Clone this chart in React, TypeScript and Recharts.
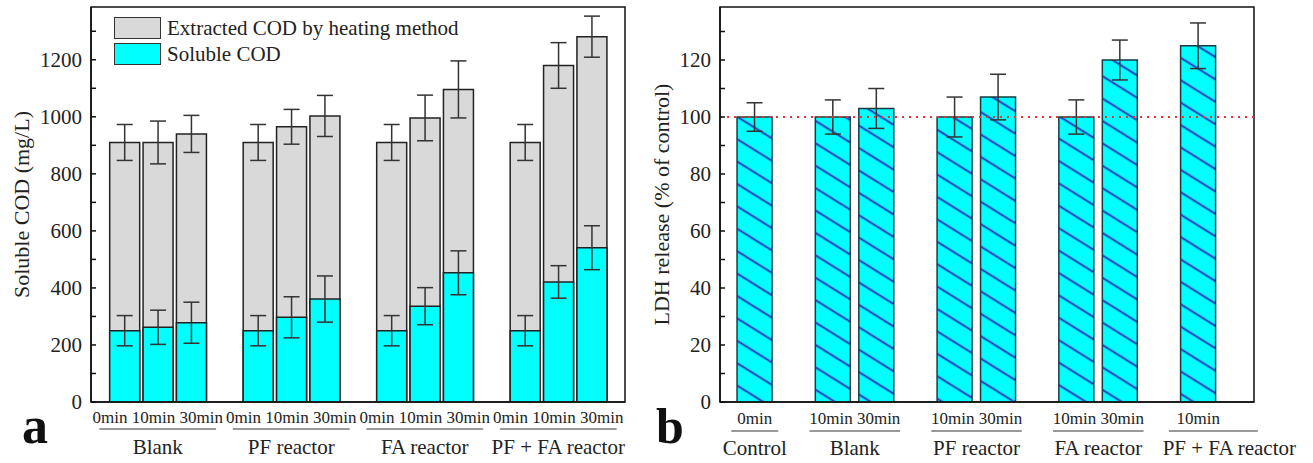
import React from 'react';
import {
  ComposedChart,
  Bar,
  XAxis,
  YAxis,
  ErrorBar,
  ReferenceArea,
  ReferenceLine
} from 'recharts';

const FONT = "'Liberation Serif', 'Times New Roman', serif";

// panel a: soluble / extracted COD
const codTimes = ['0min', '10min', '30min', '0min', '10min', '30min', '0min', '10min', '30min', '0min', '10min', '30min'];
const codGroups = ['Blank', 'PF reactor', 'FA reactor', 'PF + FA reactor'];
const codGroupOf = [0, 0, 0, 1, 1, 1, 2, 2, 2, 3, 3, 3];
const codPos = [1, 2, 3, 5, 6, 7, 9, 10, 11, 13, 14, 15];
const solubleCod = [250, 262, 278, 250, 297, 361, 250, 336, 453, 250, 421, 541];
const solubleErr = [53, 60, 72, 53, 72, 81, 53, 65, 77, 53, 57, 77];
const totalCod = [910, 910, 940, 910, 965, 1003, 910, 996, 1096, 910, 1180, 1281];
const totalErr = [63, 75, 65, 63, 61, 72, 63, 80, 100, 63, 80, 72];
const codTicks = [0, 100, 200, 300, 400, 500, 600, 700, 800, 900, 1000, 1100, 1200, 1300];

// panel b: LDH release
const ldhTimes = ['0min', '10min', '30min', '10min', '30min', '10min', '30min', '10min'];
const ldhGroups = ['Control', 'Blank', 'PF reactor', 'FA reactor', 'PF + FA reactor'];
const ldhGroupOf = [0, 1, 1, 2, 2, 3, 3, 4];
const ldhPos = [0.8, 2.6, 3.6, 5.4, 6.4, 8.2, 9.2, 11.0];
const ldhRelease = [100, 100, 103, 100, 107, 100, 120, 125];
const ldhErr = [5, 6, 7, 7, 8, 6, 7, 8];
const ldhTicks = [0, 10, 20, 30, 40, 50, 60, 70, 80, 90, 100, 110, 120, 130];

const codData = codPos.map((pos, i) => ({
  pos,
  total: totalCod[i],
  totalErr: totalErr[i],
  soluble: solubleCod[i],
  solubleErr: solubleErr[i]
}));

const ldhData = ldhPos.map((pos, i) => ({ pos, ldh: ldhRelease[i], err: ldhErr[i] }));

type GroupInfo = { center: number; span: number; times: string };

const groupSpans = (groupOf: number[], pos: number[], times: string[], n: number): GroupInfo[] =>
  Array.from({ length: n }, (_, g) => {
    const idx = pos.map((_, i) => i).filter((i) => groupOf[i] === g);
    const p = idx.map((i) => pos[i]);
    return {
      center: (Math.min(...p) + Math.max(...p)) / 2,
      span: Math.max(...p) - Math.min(...p),
      times: idx.map((i) => times[i]).join(' ')
    };
  });

const codGroupInfo = groupSpans(codGroupOf, codPos, codTimes, codGroups.length);
const ldhGroupInfo = groupSpans(ldhGroupOf, ldhPos, ldhTimes, ldhGroups.length);

const makeGroupTick = (
  names: string[],
  info: GroupInfo[],
  pxPerUnit: number,
  barSize: number,
  pad: number,
  dys: { time: number; line: number; name: number },
  shifts: { line: number; text: number; half?: number }[]
) => (props: any) => {
  const { x, y, payload } = props;
  const g = info.findIndex((d) => Math.abs(d.center - payload.value) < 1e-6);
  const s = shifts[g] || { line: 0, text: 0 };
  const half = s.half ?? (info[g].span / 2) * pxPerUnit + barSize / 2 + pad;
  return (
    <g>
      <text x={x} y={y + dys.time} textAnchor="middle" fontSize={17} fontFamily={FONT} fill="#222" style={{ whiteSpace: 'pre' }}>
        {info[g].times}
      </text>
      <line x1={x + s.line - half} x2={x + s.line + half} y1={y + dys.line} y2={y + dys.line} stroke="#777" strokeWidth={1.5} />
      <text x={x + s.text} y={y + dys.name} textAnchor="middle" fontSize={21} fontFamily={FONT} fill="#222">
        {names[g]}
      </text>
    </g>
  );
};

const makeYTick = (major: number) => (props: any) => {
  const { x, y, payload } = props;
  return (
    <g>
      <line x1={x} x2={x + 5} y1={y} y2={y} stroke="#111" strokeWidth={1.5} />
      {payload.value % major === 0 && (
        <text x={x - 9} y={y} dy="0.35em" textAnchor="end" fontSize={21} fontFamily={FONT} fill="#222">
          {payload.value}
        </text>
      )}
    </g>
  );
};

const YTitle = (props: any) => {
  const { viewBox, text } = props;
  const cx = viewBox.x + 21;
  const cy = viewBox.y + viewBox.height / 2;
  return (
    <text
      x={cx}
      y={cy}
      transform={`rotate(-90 ${cx} ${cy})`}
      textAnchor="middle"
      dominantBaseline="central"
      fontSize={22}
      fontFamily={FONT}
      fill="#222"
    >
      {text}
    </text>
  );
};

const CodLegend = () => {
  const rows = [
    { label: 'Extracted COD by heating method', color: '#d9d9d9' },
    { label: 'Soluble COD', color: '#00ffff' }
  ];
  return (
    <div style={{ position: 'absolute', left: 114, top: 17, fontFamily: FONT, fontSize: 21, color: '#222' }}>
      {rows.map((r) => (
        <div key={r.label} style={{ display: 'flex', alignItems: 'flex-start', height: 26 }}>
          <div
            style={{
              width: 47,
              height: 22,
              boxSizing: 'border-box',
              border: '1.5px solid #333',
              background: r.color
            }}
          />
          <span style={{ marginLeft: 6, lineHeight: '22px', whiteSpace: 'nowrap' }}>{r.label}</span>
        </div>
      ))}
    </div>
  );
};

const CodChart = () => {
  const domainX: [number, number] = [0, 16];
  const pxPerUnit = 534 / 16;
  return (
    <ComposedChart width={640} height={463} data={codData} margin={{ top: 7, right: 15, bottom: 0, left: 0 }}>
      <XAxis
        xAxisId="x0"
        type="number"
        dataKey="pos"
        domain={domainX}
        ticks={codGroupInfo.map((d) => d.center)}
        interval={0}
        allowDataOverflow
        tick={makeGroupTick(codGroups, codGroupInfo, pxPerUnit, 30, 10, { time: 21, line: 27, name: 52 }, [])}
        tickLine={false}
        tickSize={0}
        tickMargin={0}
        axisLine={{ stroke: '#111', strokeWidth: 1.5 }}
        height={61}
      />
      <XAxis xAxisId="x2" type="number" dataKey="pos" domain={domainX} allowDataOverflow hide />
      <YAxis
        type="number"
        domain={[0, 1385]}
        ticks={codTicks}
        interval={0}
        allowDataOverflow
        tick={makeYTick(200)}
        tickLine={false}
        tickSize={0}
        tickMargin={0}
        width={91}
        axisLine={{ stroke: '#111', strokeWidth: 1.5 }}
        label={<YTitle text="Soluble COD (mg/L)" />}
      />
      <ReferenceArea
        xAxisId="x0"
        x1={0}
        x2={16}
        y1={0}
        y2={1385}
        fill="none"
        stroke="#111"
        strokeWidth={1.5}
        ifOverflow="visible"
      />
      <Bar xAxisId="x0" dataKey="total" fill="#d9d9d9" stroke="#222" strokeWidth={1.5} barSize={30} isAnimationActive={false}>
        <ErrorBar dataKey="totalErr" width={8} stroke="#333" strokeWidth={1.5} direction="y" />
      </Bar>
      <Bar xAxisId="x2" dataKey="soluble" fill="#00ffff" stroke="#222" strokeWidth={1.5} barSize={30} isAnimationActive={false}>
        <ErrorBar dataKey="solubleErr" width={8} stroke="#333" strokeWidth={1.5} direction="y" />
      </Bar>
    </ComposedChart>
  );
};

const LdhChart = () => {
  const domainX: [number, number] = [0, 12.28];
  const pxPerUnit = 534 / 12.28;
  return (
    <ComposedChart width={673} height={463} data={ldhData} margin={{ top: 7, right: 59, bottom: 0, left: 0 }}>
      <defs>
        <pattern id="hatch" patternUnits="userSpaceOnUse" width="19" height="19" patternTransform="rotate(32)">
          <rect width="19" height="19" fill="#00ffff" />
          <line x1="0" y1="9.5" x2="19" y2="9.5" stroke="#2a2ab8" strokeWidth="1.8" />
        </pattern>
      </defs>
      <XAxis
        xAxisId="x0"
        type="number"
        dataKey="pos"
        domain={domainX}
        ticks={ldhGroupInfo.map((d) => d.center)}
        interval={0}
        allowDataOverflow
        tick={makeGroupTick(ldhGroups, ldhGroupInfo, pxPerUnit, 35, 6, { time: 22, line: 29, name: 53 }, [
          { line: 0, text: 0 },
          { line: 0, text: 0 },
          { line: 0, text: 0 },
          { line: 0, text: 0 },
          { line: 15, text: 31, half: 44.5 }
        ])}
        tickLine={false}
        tickSize={0}
        tickMargin={0}
        axisLine={{ stroke: '#111', strokeWidth: 1.5 }}
        height={61}
      />
      <YAxis
        type="number"
        domain={[0, 138.6]}
        ticks={ldhTicks}
        interval={0}
        allowDataOverflow
        tick={makeYTick(20)}
        tickLine={false}
        tickSize={0}
        tickMargin={0}
        width={80}
        axisLine={{ stroke: '#111', strokeWidth: 1.5 }}
        label={<YTitle text="LDH release (% of control)" />}
      />
      <ReferenceArea
        xAxisId="x0"
        x1={0}
        x2={12.28}
        y1={0}
        y2={138.6}
        fill="none"
        stroke="#111"
        strokeWidth={1.5}
        ifOverflow="visible"
      />
      <Bar xAxisId="x0" dataKey="ldh" fill="url(#hatch)" stroke="#1d3a40" strokeWidth={1.5} barSize={35} isAnimationActive={false}>
        <ErrorBar dataKey="err" width={8} stroke="#333" strokeWidth={1.5} direction="y" />
      </Bar>
      <ReferenceLine xAxisId="x0" y={100} stroke="#e8323c" strokeDasharray="2 5" strokeWidth={2} />
    </ComposedChart>
  );
};

export default function App() {
  return (
    <div style={{ position: 'absolute', left: 0, top: 0, width: 1313, height: 463, background: '#fff' }}>
      <div style={{ position: 'absolute', left: 0, top: 0 }}>
        <CodChart />
      </div>
      <div style={{ position: 'absolute', left: 640, top: 0 }}>
        <LdhChart />
      </div>
      <CodLegend />
      <svg width={1313} height={463} style={{ position: 'absolute', left: 0, top: 0, pointerEvents: 'none' }}>
        <text x={22} y={443} fontSize={52} fontWeight="bold" fontFamily={FONT} fill="#111">
          a
        </text>
        <text x={656} y={443} fontSize={50} fontWeight="bold" fontFamily={FONT} fill="#111">
          b
        </text>
      </svg>
    </div>
  );
}
